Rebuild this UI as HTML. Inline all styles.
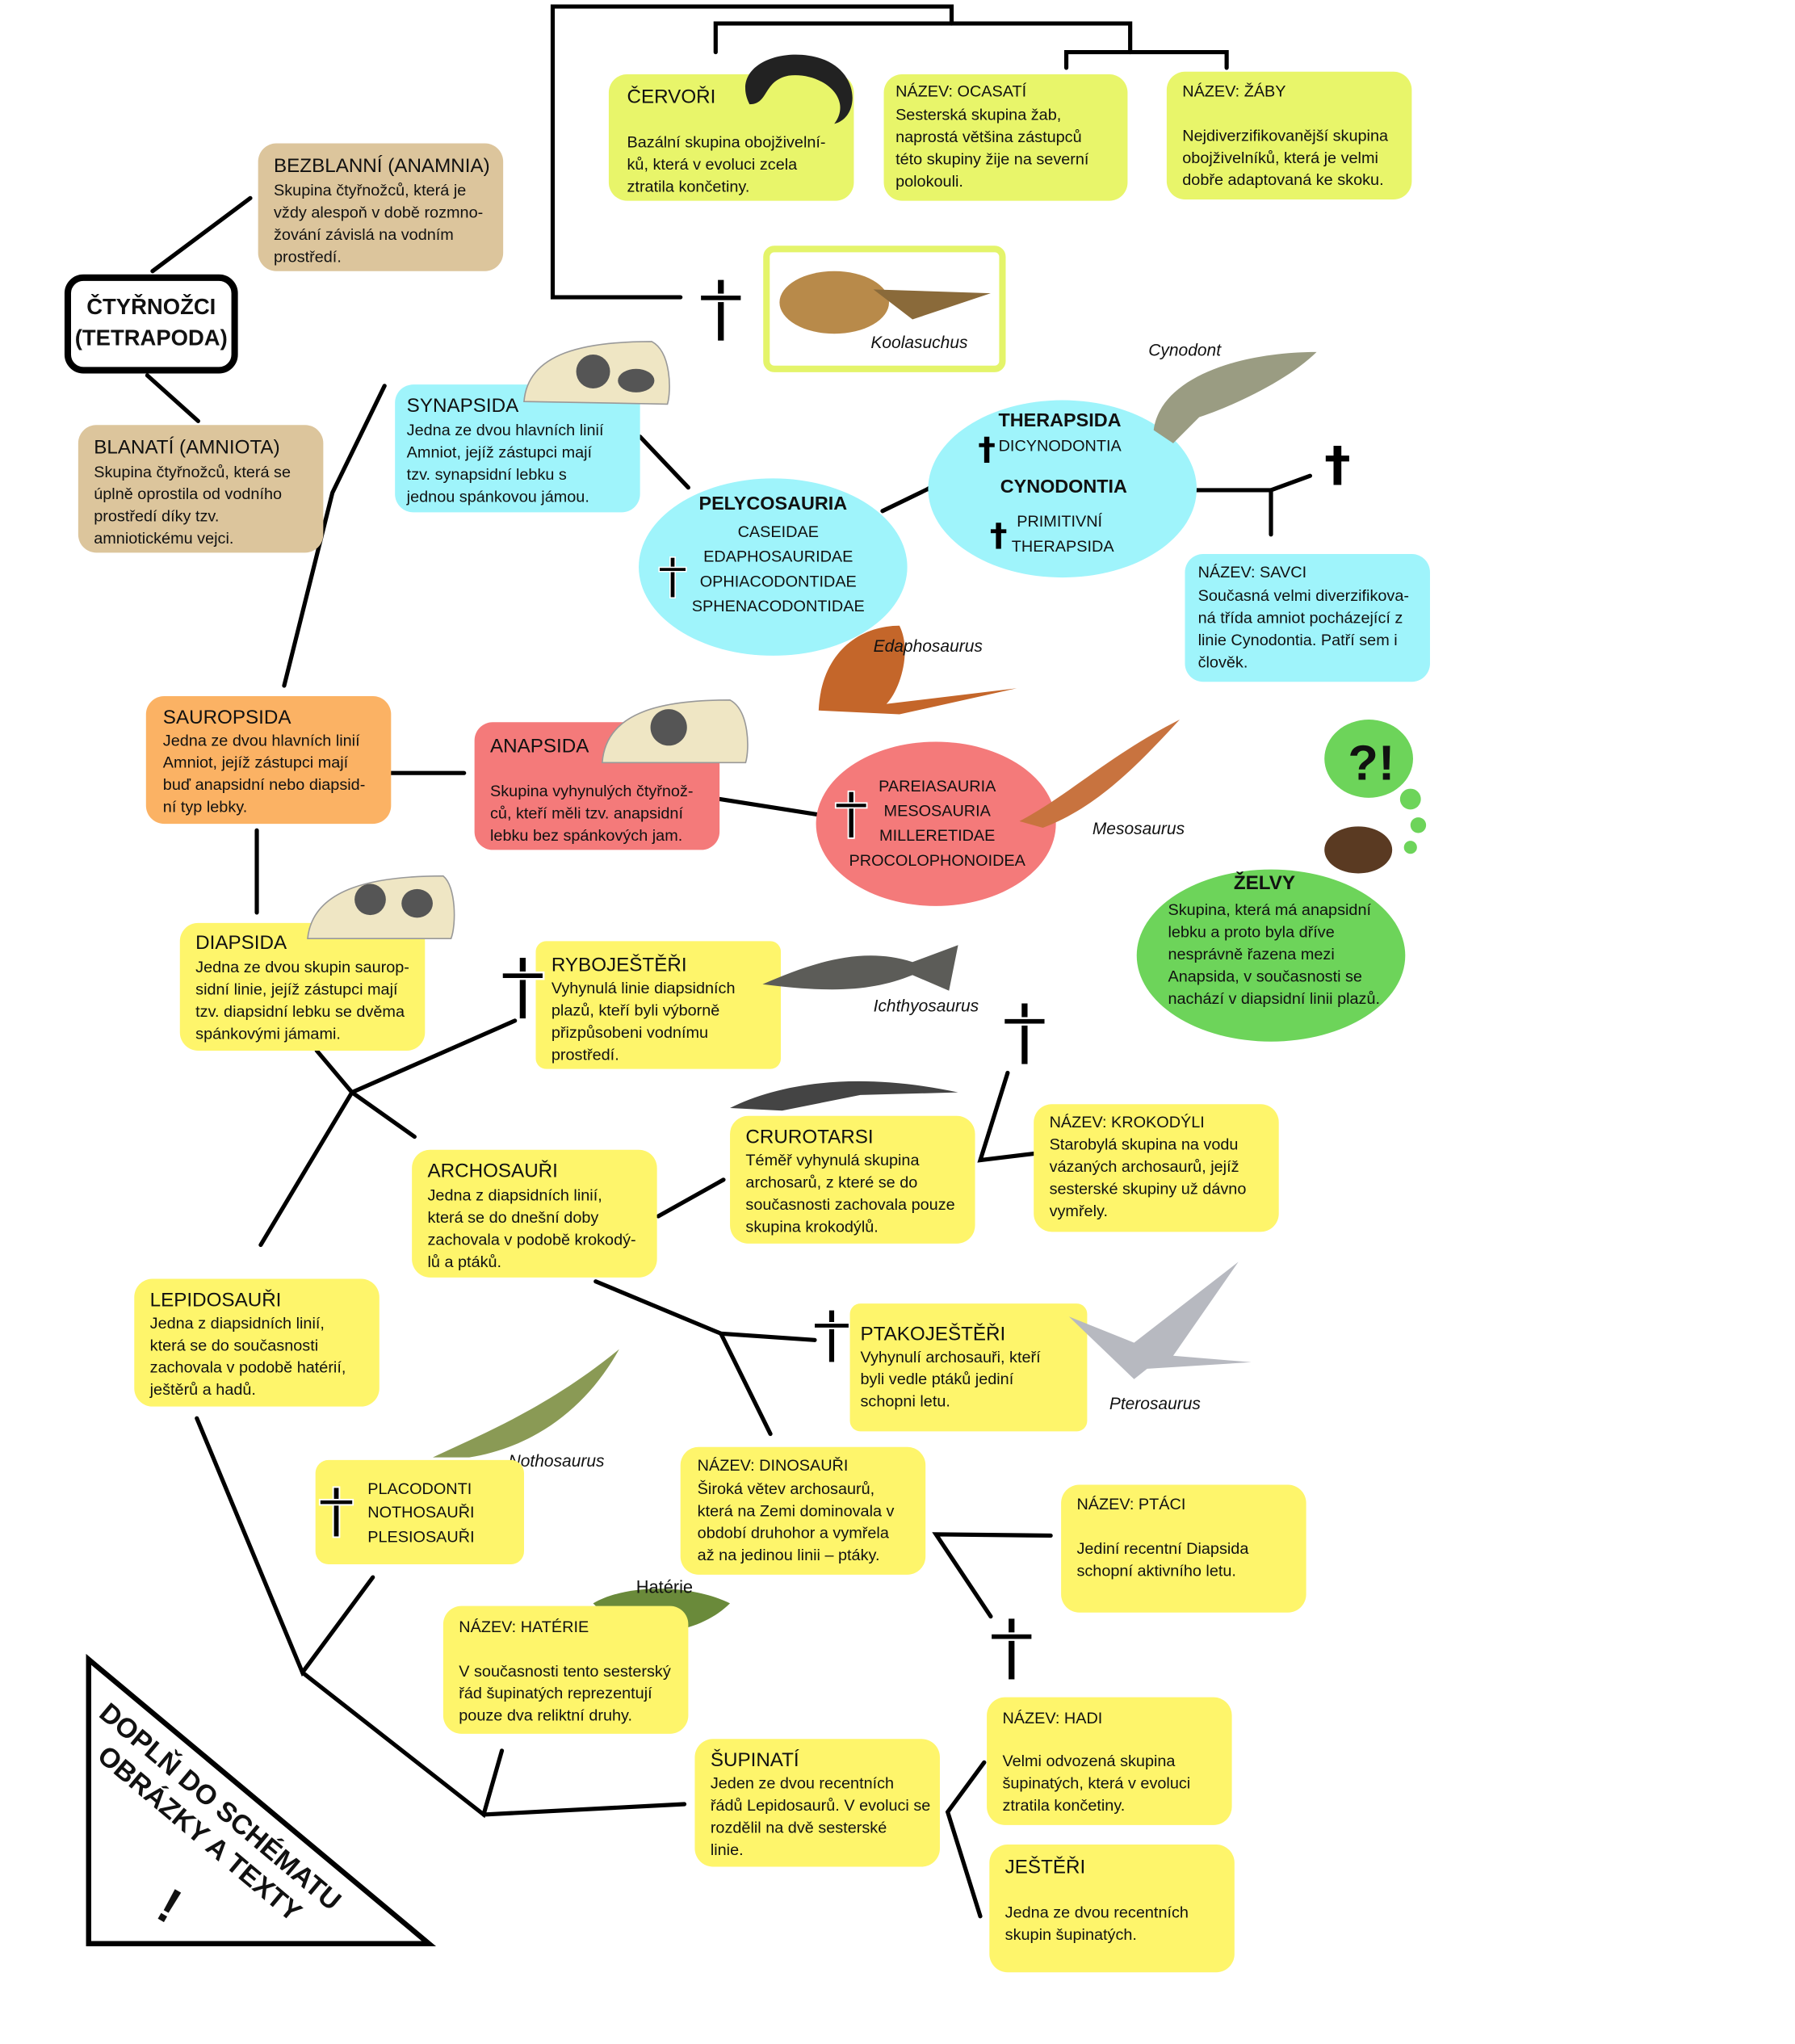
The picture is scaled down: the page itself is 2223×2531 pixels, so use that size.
<!DOCTYPE html>
<html><head><meta charset="utf-8"><style>
html,body{margin:0;padding:0;background:#fff;}
svg{display:block;}
text{font-family:"Liberation Sans","DejaVu Sans",sans-serif;fill:#111;}
.t{font-size:15px;}
.b{font-size:12.3px;}
.ln{stroke:#000;stroke-width:3.2;fill:none;stroke-linecap:round;}
</style></head><body>
<svg width="2223" height="2531" viewBox="0 0 1377 1568" preserveAspectRatio="none" xmlns="http://www.w3.org/2000/svg">
<defs>
<g id="cr"><rect x="-3" y="-24" width="6" height="48" fill="#000" stroke="#fff" stroke-width="1.5"/><rect x="-16" y="-12" width="32" height="5" fill="#000" stroke="#fff" stroke-width="1.5"/></g>
<g id="crs"><rect x="-2" y="-10" width="4" height="20" fill="#000"/><rect x="-6" y="-5" width="12" height="3" fill="#000"/></g>
</defs>
<rect width="1377" height="1568" fill="#fff"/>

<!-- connectors -->
<polyline class="ln" points="522,228 424,228 424,5 730,5 730,18"/>
<polyline class="ln" points="549,40 549,18 867,18 867,40"/>
<polyline class="ln" points="818,52 818,40 941,40 941,52"/>
<line class="ln" x1="117" y1="208" x2="192" y2="152"/>
<line class="ln" x1="113" y1="288" x2="152" y2="323"/>
<polyline class="ln" points="295,296 255,378 218,526"/>
<line class="ln" x1="491" y1="335" x2="528" y2="374"/>
<polyline class="ln" points="677,392 712,375 752,348"/>
<line class="ln" x1="712" y1="375" x2="760" y2="377"/>
<line class="ln" x1="712" y1="375" x2="752" y2="400"/>
<line class="ln" x1="880" y1="376" x2="975" y2="376"/>
<line class="ln" x1="975" y1="376" x2="975" y2="410"/>
<line class="ln" x1="975" y1="376" x2="1005" y2="365"/>
<line class="ln" x1="297" y1="593" x2="356" y2="593"/>
<line class="ln" x1="197" y1="637" x2="197" y2="700"/>
<line class="ln" x1="552" y1="613" x2="628" y2="625"/>
<polyline class="ln" points="243,806 270,838 395,783"/>
<line class="ln" x1="270" y1="838" x2="318" y2="872"/>
<line class="ln" x1="270" y1="838" x2="200" y2="955"/>
<line class="ln" x1="505" y1="933" x2="555" y2="905"/>
<polyline class="ln" points="773,823 752,890 793,885"/>
<polyline class="ln" points="457,983 553,1023 625,1028"/>
<line class="ln" x1="553" y1="1023" x2="591" y2="1100"/>
<polyline class="ln" points="151,1088 232,1283 286,1210"/>
<polyline class="ln" points="232,1283 371,1392 385,1343"/>
<line class="ln" x1="371" y1="1392" x2="525" y2="1384"/>
<polyline class="ln" points="806,1178 718,1177 760,1240"/>
<polyline class="ln" points="755,1352 727,1390 752,1470"/>

<!-- tan boxes -->
<rect x="198" y="110" width="188" height="98" rx="14" fill="#dcc59c"/>
<text class="t" x="210" y="132">BEZBLANNÍ (ANAMNIA)</text>
<text class="b" x="210" y="150">Skupina čtyřnožců, která je</text>
<text class="b" x="210" y="167">vždy alespoň v době rozmno-</text>
<text class="b" x="210" y="184">žování závislá na vodním</text>
<text class="b" x="210" y="201">prostředí.</text>
<rect x="60" y="326" width="188" height="98" rx="14" fill="#dcc59c"/>
<text class="t" x="72" y="348">BLANATÍ (AMNIOTA)</text>
<text class="b" x="72" y="366">Skupina čtyřnožců, která se</text>
<text class="b" x="72" y="383">úplně oprostila od vodního</text>
<text class="b" x="72" y="400">prostředí díky tzv.</text>
<text class="b" x="72" y="417">amniotickému vejci.</text>

<rect x="52" y="213" width="128" height="71" rx="12" fill="#fff" stroke="#000" stroke-width="5"/>
<text x="116" y="241" text-anchor="middle" font-weight="bold" font-size="17">ČTYŘNOŽCI</text>
<text x="116" y="265" text-anchor="middle" font-weight="bold" font-size="17">(TETRAPODA)</text>

<!-- top green-yellow -->
<rect x="467" y="57" width="188" height="97" rx="14" fill="#e8f56a"/>
<text class="t" x="481" y="79">ČERVOŘI</text>
<text class="b" x="481" y="113">Bazální skupina obojživelní-</text>
<text class="b" x="481" y="130">ků, která v evoluci zcela</text>
<text class="b" x="481" y="147">ztratila končetiny.</text>
<path d="M575,80 C560,50 600,35 630,45 C660,55 660,90 640,95 C655,75 630,55 605,58 C585,62 590,80 575,80 Z" fill="#222"/>
<rect x="678" y="57" width="187" height="97" rx="14" fill="#e8f56a"/>
<text class="b" x="687" y="74">NÁZEV: OCASATÍ</text>
<text class="b" x="687" y="92">Sesterská skupina žab,</text>
<text class="b" x="687" y="109">naprostá většina zástupců</text>
<text class="b" x="687" y="126">této skupiny žije na severní</text>
<text class="b" x="687" y="143">polokouli.</text>
<rect x="895" y="55" width="188" height="98" rx="14" fill="#e8f56a"/>
<text class="b" x="907" y="74">NÁZEV: ŽÁBY</text>
<text class="b" x="907" y="108">Nejdiverzifikovanější skupina</text>
<text class="b" x="907" y="125">obojživelníků, která je velmi</text>
<text class="b" x="907" y="142">dobře adaptovaná ke skoku.</text>

<use href="#cr" x="553" y="238"/>
<rect x="588" y="191" width="181" height="92" rx="6" fill="#fff" stroke="#e4f46a" stroke-width="5"/>
<ellipse cx="640" cy="232" rx="42" ry="24" fill="#b88a4a"/>
<path d="M670,222 L760,225 L700,245 Z" fill="#8a6a3a"/>
<text x="668" y="267" font-size="13" font-style="italic">Koolasuchus</text>

<!-- synapsida -->
<rect x="303" y="295" width="188" height="98" rx="14" fill="#9ff4fb"/>
<path d="M402,308 C405,270 450,262 500,262 C515,270 515,300 512,310 Z" fill="#efe6c4" stroke="#999" stroke-width="1"/>
<ellipse cx="455" cy="285" rx="13" ry="13" fill="#555"/>
<ellipse cx="488" cy="292" rx="14" ry="9" fill="#555"/>
<text class="t" x="312" y="316">SYNAPSIDA</text>
<text class="b" x="312" y="334">Jedna ze dvou hlavních linií</text>
<text class="b" x="312" y="351">Amniot, jejíž zástupci mají</text>
<text class="b" x="312" y="368">tzv. synapsidní lebku s</text>
<text class="b" x="312" y="385">jednou spánkovou jámou.</text>

<ellipse cx="593" cy="435" rx="103" ry="68" fill="#9ff4fb"/>
<text x="593" y="391" text-anchor="middle" font-weight="bold" font-size="14.5">PELYCOSAURIA</text>
<text class="b" x="597" y="412" text-anchor="middle">CASEIDAE</text>
<text class="b" x="597" y="431" text-anchor="middle">EDAPHOSAURIDAE</text>
<text class="b" x="597" y="450" text-anchor="middle">OPHIACODONTIDAE</text>
<text class="b" x="597" y="469" text-anchor="middle">SPHENACODONTIDAE</text>
<use href="#cr" x="516" y="443" transform="translate(516,443) scale(0.65) translate(-516,-443)"/>

<ellipse cx="815" cy="375" rx="103" ry="68" fill="#9ff4fb"/>
<text x="813" y="327" text-anchor="middle" font-weight="bold" font-size="14.5">THERAPSIDA</text>
<text class="b" x="766" y="346">DICYNODONTIA</text>
<text x="816" y="378" text-anchor="middle" font-weight="bold" font-size="14.5">CYNODONTIA</text>
<text class="b" x="780" y="404">PRIMITIVNÍ</text>
<text class="b" x="776" y="423">THERAPSIDA</text>
<use href="#crs" x="757" y="345"/>
<use href="#crs" x="766" y="411"/>
<path d="M885,330 C890,290 950,270 1010,270 C990,290 950,310 920,320 L900,340 Z" fill="#9a9c82"/>
<text x="881" y="273" font-size="13" font-style="italic">Cynodont</text>
<use href="#crs" x="1026" y="357" transform="translate(1026,357) scale(1.5) translate(-1026,-357)"/>

<rect x="909" y="425" width="188" height="98" rx="14" fill="#9ff4fb"/>
<text class="b" x="919" y="443">NÁZEV: SAVCI</text>
<text class="b" x="919" y="461">Současná velmi diverzifikova-</text>
<text class="b" x="919" y="478">ná třída amniot pocházející z</text>
<text class="b" x="919" y="495">linie Cynodontia. Patří sem i</text>
<text class="b" x="919" y="512">člověk.</text>

<path d="M628,545 C630,500 660,480 690,480 C700,500 690,530 680,540 L780,528 L690,548 Z" fill="#c4662a"/>
<text x="670" y="500" font-size="13" font-style="italic">Edaphosaurus</text>

<!-- sauropsida -->
<rect x="112" y="534" width="188" height="98" rx="14" fill="#fbb264"/>
<text class="t" x="125" y="555">SAUROPSIDA</text>
<text class="b" x="125" y="572">Jedna ze dvou hlavních linií</text>
<text class="b" x="125" y="589">Amniot, jejíž zástupci mají</text>
<text class="b" x="125" y="606">buď anapsidní nebo diapsid-</text>
<text class="b" x="125" y="623">ní typ lebky.</text>

<rect x="364" y="554" width="188" height="98" rx="14" fill="#f47a7a"/>
<path d="M462,585 C465,545 510,537 560,537 C575,545 575,575 572,585 Z" fill="#efe6c4" stroke="#999" stroke-width="1"/>
<ellipse cx="513" cy="558" rx="14" ry="14" fill="#555"/>
<text class="t" x="376" y="577">ANAPSIDA</text>
<text class="b" x="376" y="611">Skupina vyhynulých čtyřnož-</text>
<text class="b" x="376" y="628">ců, kteří měli tzv. anapsidní</text>
<text class="b" x="376" y="645">lebku bez spánkových jam.</text>

<ellipse cx="718" cy="632" rx="92" ry="63" fill="#f47a7a"/>
<text class="b" x="719" y="607" text-anchor="middle">PAREIASAURIA</text>
<text class="b" x="719" y="626" text-anchor="middle">MESOSAURIA</text>
<text class="b" x="719" y="645" text-anchor="middle">MILLERETIDAE</text>
<text class="b" x="719" y="664" text-anchor="middle">PROCOLOPHONOIDEA</text>
<use href="#cr" x="653" y="625" transform="translate(653,625) scale(0.75) translate(-653,-625)"/>
<path d="M782,630 C820,610 850,580 905,552 C870,590 840,620 800,635 Z" fill="#c8733f"/>
<text x="838" y="640" font-size="13" font-style="italic">Mesosaurus</text>

<!-- turtles -->
<ellipse cx="1050" cy="582" rx="34" ry="30" fill="#6dd45a"/>
<text x="1052" y="598" text-anchor="middle" font-size="38" font-weight="bold">?!</text>
<circle cx="1082" cy="613" r="8" fill="#6dd45a"/>
<circle cx="1088" cy="633" r="6" fill="#6dd45a"/>
<circle cx="1082" cy="650" r="5" fill="#6dd45a"/>
<ellipse cx="1042" cy="652" rx="26" ry="18" fill="#5a3a22"/>
<ellipse cx="975" cy="733" rx="103" ry="66" fill="#6dd45a"/>
<text x="970" y="682" text-anchor="middle" font-weight="bold" font-size="15">ŽELVY</text>
<text class="b" x="896" y="702">Skupina, která má anapsidní</text>
<text class="b" x="896" y="719">lebku a proto byla dříve</text>
<text class="b" x="896" y="736">nesprávně řazena mezi</text>
<text class="b" x="896" y="753">Anapsida, v současnosti se</text>
<text class="b" x="896" y="770">nachází v diapsidní linii plazů.</text>

<!-- diapsida -->
<rect x="138" y="708" width="188" height="98" rx="14" fill="#fef56b"/>
<path d="M236,720 C240,680 290,672 340,672 C350,680 350,710 346,720 Z" fill="#efe6c4" stroke="#999" stroke-width="1"/>
<ellipse cx="284" cy="690" rx="12" ry="12" fill="#555"/>
<ellipse cx="320" cy="693" rx="12" ry="11" fill="#555"/>
<text class="t" x="150" y="728">DIAPSIDA</text>
<text class="b" x="150" y="746">Jedna ze dvou skupin saurop-</text>
<text class="b" x="150" y="763">sidní linie, jejíž zástupci mají</text>
<text class="b" x="150" y="780">tzv. diapsidní lebku se dvěma</text>
<text class="b" x="150" y="797">spánkovými jámami.</text>

<rect x="411" y="722" width="188" height="98" rx="8" fill="#fef56b"/>
<use href="#cr" x="401" y="758"/>
<text class="t" x="423" y="745">RYBOJEŠTĚŘI</text>
<text class="b" x="423" y="762">Vyhynulá linie diapsidních</text>
<text class="b" x="423" y="779">plazů, kteří byli výborně</text>
<text class="b" x="423" y="796">přizpůsobeni vodnímu</text>
<text class="b" x="423" y="813">prostředí.</text>
<path d="M585,755 C620,740 660,725 700,738 L735,725 L728,760 L700,748 C670,760 640,762 585,755 Z" fill="#5c5c58"/>
<text x="670" y="776" font-size="13" font-style="italic">Ichthyosaurus</text>

<rect x="316" y="882" width="188" height="98" rx="14" fill="#fef56b"/>
<text class="t" x="328" y="903">ARCHOSAUŘI</text>
<text class="b" x="328" y="921">Jedna z diapsidních linií,</text>
<text class="b" x="328" y="938">která se do dnešní doby</text>
<text class="b" x="328" y="955">zachovala v podobě krokodý-</text>
<text class="b" x="328" y="972">lů a ptáků.</text>

<path d="M560,850 C600,830 660,822 735,838 L660,840 L600,852 Z" fill="#444"/>
<rect x="560" y="856" width="188" height="98" rx="14" fill="#fef56b"/>
<text class="t" x="572" y="877">CRUROTARSI</text>
<text class="b" x="572" y="894">Téměř vyhynulá skupina</text>
<text class="b" x="572" y="911">archosarů, z které se do</text>
<text class="b" x="572" y="928">současnosti zachovala pouze</text>
<text class="b" x="572" y="945">skupina krokodýlů.</text>
<use href="#cr" x="786" y="793"/>

<rect x="793" y="847" width="188" height="98" rx="14" fill="#fef56b"/>
<text class="b" x="805" y="865">NÁZEV: KROKODÝLI</text>
<text class="b" x="805" y="882">Starobylá skupina na vodu</text>
<text class="b" x="805" y="899">vázaných archosaurů, jejíž</text>
<text class="b" x="805" y="916">sesterské skupiny už dávno</text>
<text class="b" x="805" y="933">vymřely.</text>

<use href="#cr" x="638" y="1025" transform="translate(638,1025) scale(0.85) translate(-638,-1025)"/>
<rect x="652" y="1000" width="182" height="98" rx="8" fill="#fef56b"/>
<text class="t" x="660" y="1028">PTAKOJEŠTĚŘI</text>
<text class="b" x="660" y="1045">Vyhynulí archosauři, kteří</text>
<text class="b" x="660" y="1062">byli vedle ptáků jediní</text>
<text class="b" x="660" y="1079">schopni letu.</text>
<path d="M820,1010 L870,1030 L950,968 L900,1040 L960,1045 L880,1050 L870,1058 Z" fill="#b7b9c0"/>
<text x="851" y="1081" font-size="13" font-style="italic">Pterosaurus</text>

<rect x="103" y="981" width="188" height="98" rx="14" fill="#fef56b"/>
<text class="t" x="115" y="1002">LEPIDOSAUŘI</text>
<text class="b" x="115" y="1019">Jedna z diapsidních linií,</text>
<text class="b" x="115" y="1036">která se do současnosti</text>
<text class="b" x="115" y="1053">zachovala v podobě hatérií,</text>
<text class="b" x="115" y="1070">ještěrů a hadů.</text>

<path d="M332,1118 C370,1100 420,1080 475,1035 C450,1080 410,1110 360,1118 Z" fill="#8a9a55"/>
<text x="390" y="1125" font-size="13" font-style="italic">Nothosaurus</text>
<rect x="242" y="1120" width="160" height="80" rx="10" fill="#fef56b"/>
<use href="#cr" x="258" y="1160" transform="translate(258,1160) scale(0.8) translate(-258,-1160)"/>
<text class="b" x="282" y="1146">PLACODONTI</text>
<text class="b" x="282" y="1164">NOTHOSAUŘI</text>
<text class="b" x="282" y="1183">PLESIOSAUŘI</text>

<rect x="522" y="1110" width="188" height="98" rx="14" fill="#fef56b"/>
<text class="b" x="535" y="1128">NÁZEV: DINOSAUŘI</text>
<text class="b" x="535" y="1146">Široká větev archosaurů,</text>
<text class="b" x="535" y="1163">která na Zemi dominovala v</text>
<text class="b" x="535" y="1180">období druhohor a vymřela</text>
<text class="b" x="535" y="1197">až na jedinou linii – ptáky.</text>

<rect x="814" y="1139" width="188" height="98" rx="14" fill="#fef56b"/>
<text class="b" x="826" y="1158">NÁZEV: PTÁCI</text>
<text class="b" x="826" y="1192">Jediní recentní Diapsida</text>
<text class="b" x="826" y="1209">schopní aktivního letu.</text>
<use href="#cr" x="776" y="1265"/>

<path d="M455,1230 C480,1215 530,1215 560,1230 C540,1250 500,1260 470,1245 Z" fill="#6a8a3a"/>
<text x="488" y="1222" font-size="13.5">Hatérie</text>
<rect x="340" y="1232" width="188" height="98" rx="14" fill="#fef56b"/>
<text class="b" x="352" y="1252">NÁZEV: HATÉRIE</text>
<text class="b" x="352" y="1286">V současnosti tento sesterský</text>
<text class="b" x="352" y="1303">řád šupinatých reprezentují</text>
<text class="b" x="352" y="1320">pouze dva reliktní druhy.</text>

<rect x="533" y="1334" width="188" height="98" rx="14" fill="#fef56b"/>
<text class="t" x="545" y="1355">ŠUPINATÍ</text>
<text class="b" x="545" y="1372">Jeden ze dvou recentních</text>
<text class="b" x="545" y="1389">řádů Lepidosaurů. V evoluci se</text>
<text class="b" x="545" y="1406">rozdělil na dvě sesterské</text>
<text class="b" x="545" y="1423">linie.</text>

<rect x="757" y="1302" width="188" height="98" rx="14" fill="#fef56b"/>
<text class="b" x="769" y="1322">NÁZEV: HADI</text>
<text class="b" x="769" y="1355">Velmi odvozená skupina</text>
<text class="b" x="769" y="1372">šupinatých, která v evoluci</text>
<text class="b" x="769" y="1389">ztratila končetiny.</text>

<rect x="759" y="1415" width="188" height="98" rx="14" fill="#fef56b"/>
<text class="t" x="771" y="1437">JEŠTĚŘI</text>
<text class="b" x="771" y="1471">Jedna ze dvou recentních</text>
<text class="b" x="771" y="1488">skupin šupinatých.</text>

<!-- triangle -->
<polygon points="68,1273 68,1491 329,1491" fill="#fff" stroke="#000" stroke-width="4" stroke-linejoin="miter"/>
<g transform="translate(80,1310) rotate(40)">
<text x="0" y="8" font-size="21" font-weight="bold">DOPLŇ DO SCHÉMATU</text>
<text x="20" y="34" font-size="21" font-weight="bold">OBRÁZKY A TEXTY</text>
</g>
<text transform="translate(118,1470) rotate(30)" font-size="38" font-weight="bold">!</text>
</svg>
</body></html>
